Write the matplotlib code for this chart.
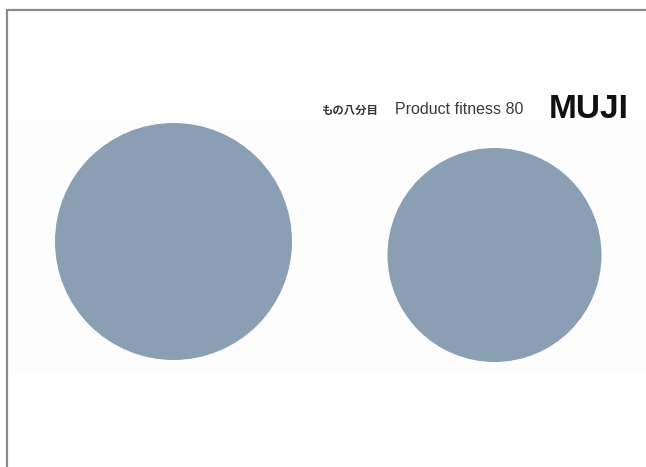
import matplotlib
matplotlib.use("Agg")
import matplotlib.pyplot as plt
from matplotlib.patches import Circle, Rectangle

# two circles: label, radius (px)
labels = ["left", "right"]
radii = [118.5, 107.0]
centers_x = [173.5, 494.5]
centers_y = [241.5, 255.0]

tagline_jp = "もの八分目"
tagline_en = "Product fitness 80"
brand = "MUJI"

W, H = 646, 467
fig = plt.figure(figsize=(W / 100, H / 100), dpi=100)
ax = fig.add_axes([0, 0, 1, 1])
ax.set_xlim(0, W)
ax.set_ylim(H, 0)
ax.axis("off")

# very faint band behind the circles
ax.add_patch(Rectangle((7, 120), W - 7, 250, color="#fdfdfd", lw=0))

for cx, cy, r in zip(centers_x, centers_y, radii):
    ax.add_patch(Circle((cx, cy), r, color="#8a9eb4", lw=0))

# frame lines (top and left only)
ax.plot([6, W], [9.5, 9.5], color="#8a8a8a", lw=1.6, solid_capstyle="butt")
ax.plot([6.5, 6.5], [9, H], color="#8a8a8a", lw=1.6, solid_capstyle="butt")

ax.text(321, 114, tagline_jp, ha="left", va="baseline", fontsize=8.2,
        family=["Noto Sans CJK JP", "DejaVu Sans"], fontweight="bold", color="#333333")
ax.text(395, 114, tagline_en, ha="left", va="baseline", fontsize=11.5,
        family="Liberation Sans", color="#3a3a3a")
ax.text(549, 117.5, brand, ha="left", va="baseline", fontsize=24,
        family="Liberation Sans", fontweight="heavy", color="#111111")

fig.savefig("out.png", dpi=100)
